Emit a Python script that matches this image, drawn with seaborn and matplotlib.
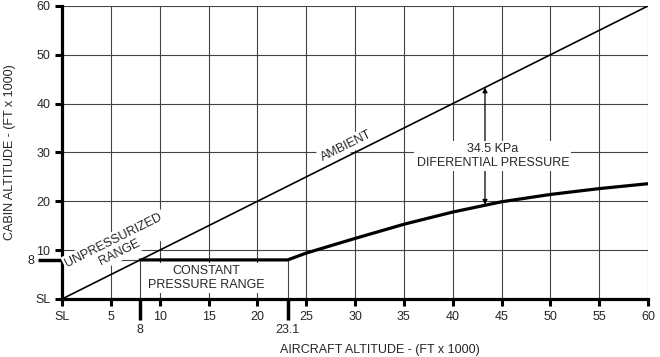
import numpy as np
import pandas as pd
import seaborn as sns
from matplotlib import pyplot as plt

# ambient: cabin altitude equals aircraft altitude
ambient_x = [0, 60]
ambient_y = [0, 60]

# cabin schedule, thousands of ft
cabin_x = [8, 23.1, 25, 30, 35, 40, 45, 50, 55, 60]
cabin_y = [8, 8, 9.4, 12.4, 15.3, 17.8, 19.9, 21.4, 22.6, 23.6]

cabin_const = 8
const_start = 8
const_end = 23.1
diff_arrow_x = 43.3
diff_arrow_low = 19.3

x_major = list(range(0, 61, 5))
x_major_labels = ["SL"] + [str(v) for v in x_major[1:]]
y_major = list(range(0, 61, 10))
y_major_labels = ["SL"] + [str(v) for v in y_major[1:]]
x_minor = [8, 23.1]
x_minor_labels = ["8", "23.1"]
y_minor = [8]
y_minor_labels = ["8"]

sns.set_style("white")
plt.rcParams["font.family"] = ["Liberation Sans", "DejaVu Sans"]
plt.rcParams["font.size"] = 9

fig = plt.figure(figsize=(6.6, 3.57), dpi=100)
ax = fig.add_axes([0.094, 0.1625, 0.888, 0.821])

df_amb = pd.DataFrame({"x": ambient_x, "y": ambient_y})
df_cab = pd.DataFrame({"x": cabin_x, "y": cabin_y})

sns.lineplot(data=df_amb, x="x", y="y", ax=ax, color="black", lw=1.2, zorder=4)
sns.lineplot(data=df_cab, x="x", y="y", ax=ax, color="black", lw=2.3, zorder=4)

# thin guide lines for the constant pressure range
ax.vlines([const_start, const_end], 0, cabin_const, color="#444444", lw=0.8, zorder=1)
ax.hlines(cabin_const, 0, const_start, color="#444444", lw=0.8, zorder=1)

ax.set_xlim(0, 60)
ax.set_ylim(0, 60)
ax.set_xticks(x_major, x_major_labels)
ax.set_yticks(y_major, y_major_labels)
ax.set_xticks(x_minor, x_minor_labels, minor=True)
ax.set_yticks(y_minor, y_minor_labels, minor=True)

ax.grid(True, which="major", color="#444444", lw=0.8)
ax.set_axisbelow(True)

for side in ["top", "right"]:
    ax.spines[side].set_visible(False)
for side in ["left", "bottom"]:
    ax.spines[side].set_linewidth(2.3)
    ax.spines[side].set_color("black")

ax.tick_params(which="major", direction="out", length=5, width=2.2,
               color="black", labelsize=9, pad=3.5, bottom=True, left=True)
ax.xaxis.set_tick_params(which="minor", direction="out", length=15, width=2.5,
                         color="black", labelsize=9, pad=3, bottom=True)
ax.yaxis.set_tick_params(which="minor", direction="out", length=17, width=2.5,
                         color="black", labelsize=9, pad=3, left=True)

ax.set_xlabel("AIRCRAFT ALTITUDE - (FT x 1000)", fontsize=9)
ax.set_ylabel("CABIN ALTITUDE - (FT x 1000)", fontsize=9)
ax.xaxis.set_label_coords(0.543, -0.152)
ax.yaxis.set_label_coords(-0.078, 0.5)

box = dict(facecolor="white", edgecolor="none", pad=1.5)
angle = np.degrees(np.arctan(0.5))

ax.text(29.1, 31.4, "AMBIENT", rotation=angle, ha="center", va="center",
        fontsize=9, bbox=box, zorder=5)
ax.text(5.6, 10.8, "UNPRESSURIZED\nRANGE", rotation=angle, ha="center",
        va="center", multialignment="center", fontsize=9, bbox=box, zorder=5)
ax.text(14.8, 4.3, "CONSTANT\nPRESSURE RANGE", ha="center", va="center",
        multialignment="center", fontsize=9, bbox=box, zorder=5)

ax.annotate("", xy=(diff_arrow_x, diff_arrow_x), xytext=(diff_arrow_x, diff_arrow_low),
            arrowprops=dict(arrowstyle="<|-|>", lw=0.9, color="black",
                            mutation_scale=7, shrinkA=0, shrinkB=0), zorder=3)
ax.text(44.1, 29.2, "34.5 KPa\nDIFERENTIAL PRESSURE", ha="center", va="center",
        multialignment="center", fontsize=9, bbox=box, zorder=5)

fig.savefig("out.png", dpi=100)
